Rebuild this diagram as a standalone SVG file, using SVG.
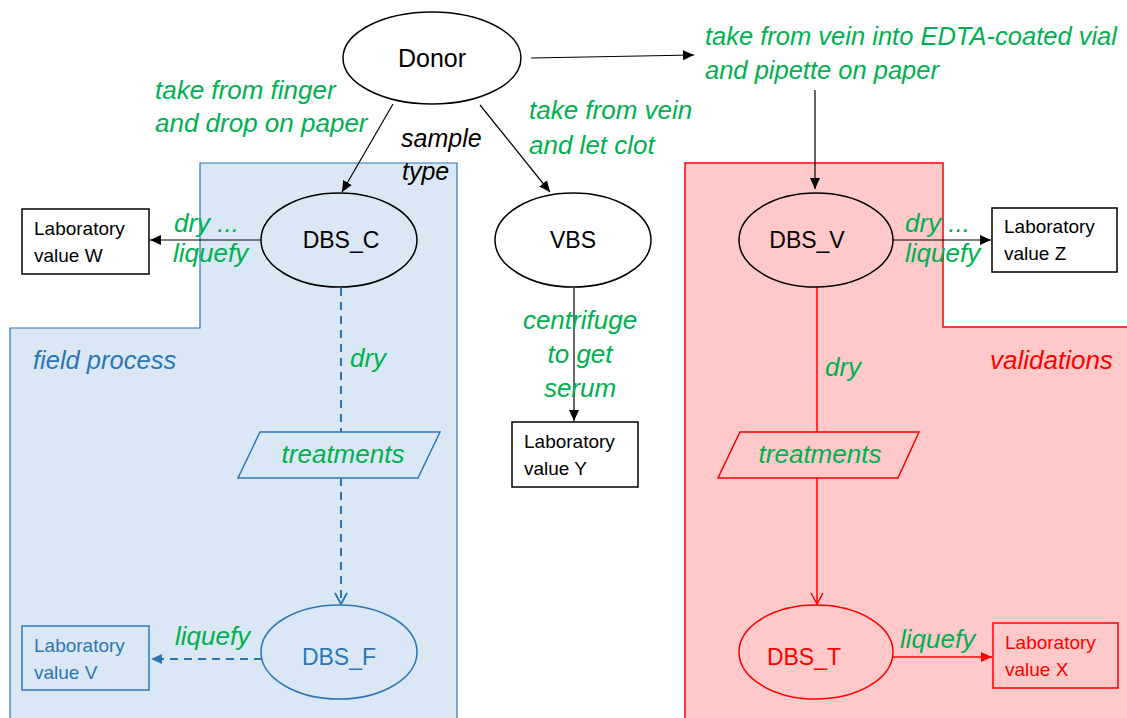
<svg xmlns="http://www.w3.org/2000/svg" width="1127" height="718" viewBox="0 0 1127 718">
<style>
text{font-family:"Liberation Sans",Arial,sans-serif}
.lbl{font-style:italic;font-size:26px;fill:#00b050}
.box{font-size:19px;fill:#000}
.node{font-size:23px}
.blk{stroke:#000;stroke-width:1.2;fill:none}
.blu{stroke:#2e75b6;stroke-width:2;fill:none}
.red{stroke:#ff0000;stroke-width:1.5;fill:none}
</style>
<defs>
<marker id="ak" markerUnits="userSpaceOnUse" markerWidth="12" markerHeight="12" refX="11" refY="6" orient="auto"><path d="M0,1 L11,6 L0,11 Z" fill="#000"/></marker>
<marker id="ab" markerUnits="userSpaceOnUse" markerWidth="12" markerHeight="12" refX="11" refY="6" orient="auto"><path d="M0,1 L11,6 L0,11 Z" fill="#2e75b6"/></marker>
<marker id="ar" markerUnits="userSpaceOnUse" markerWidth="12" markerHeight="12" refX="11" refY="6" orient="auto"><path d="M0,1 L11,6 L0,11 Z" fill="#ff0000"/></marker>
<marker id="ob" markerUnits="userSpaceOnUse" markerWidth="14" markerHeight="14" refX="12" refY="7" orient="auto"><path d="M1,1 L12,7 L1,13" fill="none" stroke="#2e75b6" stroke-width="1.8"/></marker>
<marker id="or" markerUnits="userSpaceOnUse" markerWidth="14" markerHeight="14" refX="12" refY="7" orient="auto"><path d="M1,1 L12,7 L1,13" fill="none" stroke="#ff0000" stroke-width="1.5"/></marker>
</defs>
<rect width="1127" height="718" fill="#fff"/>
<g id="field-region">
<path d="M200,163 H457 V720 H10 V328 H200 Z" fill="#dae8f5" stroke="#2e75b6" stroke-width="1.2"/>
<text x="33" y="369" font-style="italic" font-size="25.5" fill="#2e75b6">field process</text>
</g>
<g id="validation-region">
<path d="M685,163 H943 V327 H1130 V720 H685 Z" fill="#ffc9c9" stroke="#ff0000" stroke-width="1.5"/>
<text x="990" y="369" font-style="italic" font-size="26" fill="#ff0000">validations</text>
</g>
<g id="connectors">
<line class="blk" x1="531" y1="58" x2="694" y2="55" marker-end="url(#ak)"/>
<line class="blk" x1="815" y1="90" x2="815" y2="189" marker-end="url(#ak)"/>
<line class="blk" x1="393" y1="104" x2="342" y2="192" marker-end="url(#ak)"/>
<line class="blk" x1="480" y1="105" x2="550" y2="192" marker-end="url(#ak)"/>
<line class="blk" x1="262" y1="240" x2="150" y2="240" marker-end="url(#ak)"/>
<line class="blk" x1="893" y1="240" x2="991" y2="240" marker-end="url(#ak)"/>
<line class="blk" x1="574" y1="288" x2="574" y2="421" marker-end="url(#ak)"/>
<line class="blu" x1="341" y1="288" x2="341" y2="432" stroke-dasharray="8,6"/>
<line class="blu" x1="341" y1="478" x2="341" y2="604" stroke-dasharray="8,6" marker-end="url(#ob)"/>
<line class="blu" x1="262" y1="659" x2="151" y2="659" stroke-dasharray="8,6" marker-end="url(#ab)"/>
<line class="red" x1="817" y1="287" x2="817" y2="432"/>
<line class="red" x1="817" y1="478" x2="817" y2="604" marker-end="url(#or)"/>
<line class="red" x1="880" y1="657" x2="992" y2="657" marker-end="url(#ar)"/>
<text class="lbl" x="705" y="45" font-size="25.5" style="font-size:25.5px">take from vein into EDTA-coated vial</text>
<text class="lbl" x="705" y="79" style="font-size:25.5px">and pipette on paper</text>
<text class="lbl" x="155" y="99">take from finger</text>
<text class="lbl" x="155" y="132">and drop on paper</text>
<text class="lbl" x="529" y="119">take from vein</text>
<text class="lbl" x="529" y="154">and let clot</text>
<text x="401" y="147" font-style="italic" font-size="25" fill="#000">sample</text>
<text x="402" y="180" font-style="italic" font-size="25" fill="#000">type</text>
<text class="lbl" x="174" y="232">dry ...</text>
<text class="lbl" x="173" y="262">liquefy</text>
<text class="lbl" x="905" y="232">dry ...</text>
<text class="lbl" x="905" y="262">liquefy</text>
<text class="lbl" x="580" y="329" text-anchor="middle">centrifuge</text>
<text class="lbl" x="580" y="363" text-anchor="middle">to get</text>
<text class="lbl" x="580" y="397" text-anchor="middle">serum</text>
<text class="lbl" x="350" y="367">dry</text>
<text class="lbl" x="825" y="376">dry</text>
<text class="lbl" x="175" y="645">liquefy</text>
<text class="lbl" x="900" y="648">liquefy</text>
</g>
<g id="donor">
<ellipse cx="432" cy="58" rx="89" ry="46" fill="#fff" stroke="#000" stroke-width="1.5"/>
<text class="node" x="432" y="67" text-anchor="middle" font-size="24" style="font-size:25px">Donor</text>
</g>
<g id="dbs-c">
<ellipse cx="339" cy="240" rx="78" ry="47" fill="#dae8f5" stroke="#000" stroke-width="1.5"/>
<text class="node" x="341" y="248" text-anchor="middle">DBS_C</text>
</g>
<g id="vbs">
<ellipse cx="573" cy="240" rx="78" ry="47" fill="#fff" stroke="#000" stroke-width="1.5"/>
<text class="node" x="573" y="248" text-anchor="middle">VBS</text>
</g>
<g id="dbs-v">
<ellipse cx="816" cy="240" rx="77" ry="47" fill="#ffc9c9" stroke="#000" stroke-width="1.5"/>
<text class="node" x="807" y="248" text-anchor="middle">DBS_V</text>
</g>
<g id="lab-w">
<rect x="22" y="209" width="127" height="65" fill="#fff" stroke="#000" stroke-width="1.5"/>
<text class="box" x="34" y="235">Laboratory</text>
<text class="box" x="34" y="262">value W</text>
</g>
<g id="lab-z">
<rect x="992" y="208" width="125" height="64" fill="#fff" stroke="#000" stroke-width="1.5"/>
<text class="box" x="1004" y="233">Laboratory</text>
<text class="box" x="1004" y="260">value Z</text>
</g>
<g id="lab-y">
<rect x="512" y="422" width="126" height="65" fill="#fff" stroke="#000" stroke-width="1.5"/>
<text class="box" x="524" y="448">Laboratory</text>
<text class="box" x="524" y="475">value Y</text>
</g>
<g id="treatments-blue">
<path d="M260,432 H440 L418,478 H238 Z" fill="#dae8f5" stroke="#2e75b6" stroke-width="1.5"/>
<text class="lbl" x="343" y="463" text-anchor="middle">treatments</text>
</g>
<g id="treatments-red">
<path d="M740,432 H919 L898,478 H718 Z" fill="#ffc9c9" stroke="#ff0000" stroke-width="1.5"/>
<text class="lbl" x="820" y="463" text-anchor="middle">treatments</text>
</g>
<g id="dbs-f">
<ellipse cx="339" cy="652" rx="78" ry="47" fill="#dae8f5" stroke="#2e75b6" stroke-width="1.5"/>
<text class="node" x="339" y="665" text-anchor="middle" fill="#2e75b6">DBS_F</text>
</g>
<g id="lab-v">
<rect x="22" y="626" width="127" height="64" fill="#dae8f5" stroke="#2e75b6" stroke-width="1.5"/>
<text class="box" x="34" y="652" style="fill:#2e75b6">Laboratory</text>
<text class="box" x="34" y="679" style="fill:#2e75b6">value V</text>
</g>
<g id="dbs-t">
<ellipse cx="816" cy="652" rx="77" ry="47" fill="#ffc9c9" stroke="#ff0000" stroke-width="1.5"/>
<text class="node" x="804" y="665" text-anchor="middle" fill="#ff0000">DBS_T</text>
</g>
<g id="lab-x">
<rect x="993" y="623" width="125" height="65" fill="#ffc9c9" stroke="#ff0000" stroke-width="1.5"/>
<text class="box" x="1005" y="649" style="fill:#ff0000">Laboratory</text>
<text class="box" x="1005" y="676" style="fill:#ff0000">value X</text>
</g>
</svg>
